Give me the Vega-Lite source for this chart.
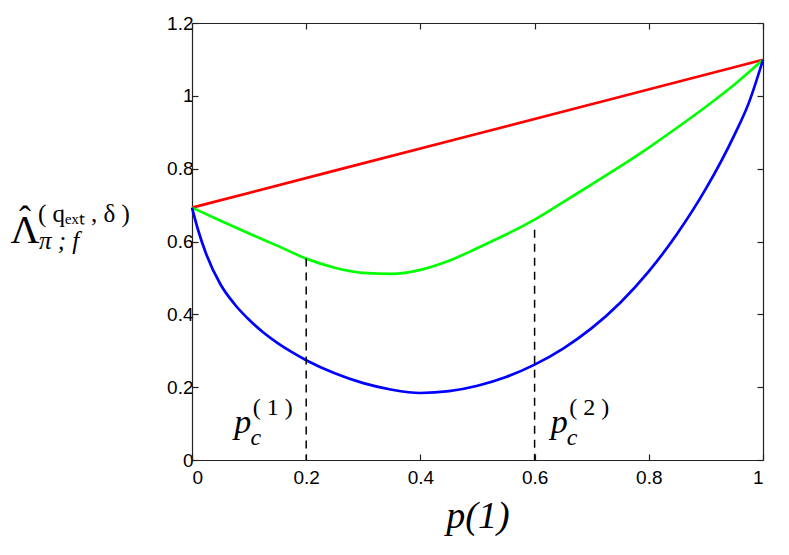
{
  "$schema": "https://vega.github.io/schema/vega-lite/v6.json",
  "width": 571,
  "height": 437,
  "autosize": "none",
  "padding": {"left": 192, "top": 23, "right": 26, "bottom": 95},
  "background": "white",
  "config": {
    "view": {"stroke": null},
    "axis": {
      "grid": false,
      "labelFont": "Liberation Sans",
      "labelFontSize": 19,
      "labelColor": "black",
      "domainColor": "#222",
      "domainWidth": 1.2,
      "tickColor": "#222",
      "tickWidth": 1.2,
      "tickSize": -6
    }
  },
  "datasets": {
    "curves": [
      {"p": 0, "v": 0.693, "series": "red"},
      {"p": 0.5, "v": 0.896, "series": "red"},
      {"p": 1, "v": 1.099, "series": "red"},
      {"p": 0, "v": 0.693, "series": "green"},
      {"p": 0.05, "v": 0.657, "series": "green"},
      {"p": 0.1, "v": 0.622, "series": "green"},
      {"p": 0.15, "v": 0.588, "series": "green"},
      {"p": 0.2, "v": 0.553, "series": "green"},
      {"p": 0.25, "v": 0.528, "series": "green"},
      {"p": 0.3, "v": 0.514, "series": "green"},
      {"p": 0.35, "v": 0.511, "series": "green"},
      {"p": 0.4, "v": 0.522, "series": "green"},
      {"p": 0.45, "v": 0.547, "series": "green"},
      {"p": 0.5, "v": 0.582, "series": "green"},
      {"p": 0.55, "v": 0.619, "series": "green"},
      {"p": 0.6, "v": 0.66, "series": "green"},
      {"p": 0.65, "v": 0.708, "series": "green"},
      {"p": 0.7, "v": 0.757, "series": "green"},
      {"p": 0.75, "v": 0.806, "series": "green"},
      {"p": 0.8, "v": 0.858, "series": "green"},
      {"p": 0.85, "v": 0.913, "series": "green"},
      {"p": 0.9, "v": 0.97, "series": "green"},
      {"p": 0.95, "v": 1.031, "series": "green"},
      {"p": 1, "v": 1.099, "series": "green"},
      {"p": 0, "v": 0.693, "series": "blue"},
      {"p": 0.01, "v": 0.635, "series": "blue"},
      {"p": 0.025, "v": 0.565, "series": "blue"},
      {"p": 0.05, "v": 0.482, "series": "blue"},
      {"p": 0.075, "v": 0.427, "series": "blue"},
      {"p": 0.1, "v": 0.385, "series": "blue"},
      {"p": 0.125, "v": 0.35, "series": "blue"},
      {"p": 0.15, "v": 0.321, "series": "blue"},
      {"p": 0.175, "v": 0.296, "series": "blue"},
      {"p": 0.2, "v": 0.274, "series": "blue"},
      {"p": 0.25, "v": 0.238, "series": "blue"},
      {"p": 0.3, "v": 0.211, "series": "blue"},
      {"p": 0.35, "v": 0.193, "series": "blue"},
      {"p": 0.4, "v": 0.184, "series": "blue"},
      {"p": 0.45, "v": 0.189, "series": "blue"},
      {"p": 0.5, "v": 0.204, "series": "blue"},
      {"p": 0.55, "v": 0.228, "series": "blue"},
      {"p": 0.6, "v": 0.262, "series": "blue"},
      {"p": 0.65, "v": 0.306, "series": "blue"},
      {"p": 0.7, "v": 0.362, "series": "blue"},
      {"p": 0.75, "v": 0.432, "series": "blue"},
      {"p": 0.8, "v": 0.518, "series": "blue"},
      {"p": 0.85, "v": 0.622, "series": "blue"},
      {"p": 0.9, "v": 0.745, "series": "blue"},
      {"p": 0.95, "v": 0.893, "series": "blue"},
      {"p": 0.975, "v": 0.98, "series": "blue"},
      {"p": 1, "v": 1.099, "series": "blue"}
    ],
    "cuts": [
      {"p": 0.2, "top": 0.553},
      {"p": 0.6, "top": 0.632}
    ],
    "pc": [
      {"p": 0.089, "v": 0.074, "n": "( 1 )"},
      {"p": 0.643, "v": 0.074, "n": "( 2 )"}
    ],
    "ylab": [
      {"p": -0.2925, "v": 0.596}
    ]
  },
  "layer": [
    {
      "data": {"name": "curves"},
      "mark": {"type": "line", "strokeWidth": 2.7, "interpolate": "monotone"},
      "encoding": {
        "x": {
          "field": "p", "type": "quantitative",
          "scale": {"domain": [0, 1], "nice": false, "zero": false},
          "axis": {
            "orient": "bottom",
            "values": [0, 0.2, 0.4, 0.6, 0.8, 1],
            "format": "~g",
            "labelPadding": 14,
            "title": "p(1)",
            "titleFont": "Liberation Serif",
            "titleFontStyle": "italic",
            "titleFontWeight": "normal",
            "titleFontSize": 38,
            "titleColor": "black",
            "titlePadding": 10
          }
        },
        "y": {
          "field": "v", "type": "quantitative",
          "scale": {"domain": [0, 1.2], "nice": false},
          "axis": {
            "orient": "left",
            "values": [0, 0.2, 0.4, 0.6, 0.8, 1, 1.2],
            "format": "~g",
            "labelPadding": 5,
            "title": null
          }
        },
        "color": {
          "field": "series", "type": "nominal",
          "scale": {"domain": ["red", "green", "blue"], "range": ["#ff0000", "#00ff00", "#0000ff"]},
          "legend": null
        }
      }
    },
    {
      "data": {"name": "cuts"},
      "mark": {"type": "rule", "color": "black", "strokeWidth": 1.5, "strokeDash": [8, 6]},
      "encoding": {
        "x": {
          "field": "p", "type": "quantitative",
          "axis": {"orient": "top", "values": [0, 0.2, 0.4, 0.6, 0.8, 1], "labels": false, "title": null}
        },
        "y": {
          "field": "top", "type": "quantitative",
          "axis": {"orient": "right", "values": [0, 0.2, 0.4, 0.6, 0.8, 1, 1.2], "labels": false, "title": null}
        },
        "y2": {"datum": 0}
      }
    },
    {
      "data": {"name": "pc"},
      "mark": {"type": "text", "font": "Liberation Serif", "fontStyle": "italic", "fontSize": 34, "align": "center", "baseline": "alphabetic", "color": "black"},
      "encoding": {
        "x": {"field": "p", "type": "quantitative", "axis": null},
        "y": {"field": "v", "type": "quantitative", "axis": null},
        "text": {"value": "p"}
      }
    },
    {
      "data": {"name": "pc"},
      "mark": {"type": "text", "font": "Liberation Serif", "fontStyle": "italic", "fontSize": 24, "align": "center", "baseline": "alphabetic", "dx": 13, "dy": 12, "color": "black"},
      "encoding": {
        "x": {"field": "p", "type": "quantitative", "axis": null},
        "y": {"field": "v", "type": "quantitative", "axis": null},
        "text": {"value": "c"}
      }
    },
    {
      "data": {"name": "pc"},
      "mark": {"type": "text", "font": "Liberation Serif", "fontSize": 24, "align": "left", "baseline": "alphabetic", "dx": 10, "dy": -18, "color": "black"},
      "encoding": {
        "x": {"field": "p", "type": "quantitative", "axis": null},
        "y": {"field": "v", "type": "quantitative", "axis": null},
        "text": {"field": "n"}
      }
    },
    {
      "data": {"name": "ylab"},
      "mark": {"type": "text", "font": "Liberation Serif", "fontSize": 40, "align": "center", "baseline": "alphabetic", "color": "black"},
      "encoding": {
        "x": {"field": "p", "type": "quantitative", "axis": null},
        "y": {"field": "v", "type": "quantitative", "axis": null},
        "text": {"value": "Λ"}
      }
    },
    {
      "data": {"name": "ylab"},
      "mark": {"type": "text", "font": "Liberation Serif", "fontSize": 36, "align": "center", "baseline": "alphabetic", "dy": -12, "color": "black"},
      "encoding": {
        "x": {"field": "p", "type": "quantitative", "axis": null},
        "y": {"field": "v", "type": "quantitative", "axis": null},
        "text": {"value": "ˆ"}
      }
    },
    {
      "data": {"name": "ylab"},
      "mark": {"type": "text", "font": "Liberation Serif", "fontSize": 25, "align": "left", "baseline": "alphabetic", "dx": 13, "dy": -21, "color": "black"},
      "encoding": {
        "x": {"field": "p", "type": "quantitative", "axis": null},
        "y": {"field": "v", "type": "quantitative", "axis": null},
        "text": {"value": "( qₑₓₜ , δ )"}
      }
    },
    {
      "data": {"name": "ylab"},
      "mark": {"type": "text", "font": "Liberation Serif", "fontStyle": "italic", "fontSize": 25, "align": "left", "baseline": "alphabetic", "dx": 14, "dy": 6, "color": "black"},
      "encoding": {
        "x": {"field": "p", "type": "quantitative", "axis": null},
        "y": {"field": "v", "type": "quantitative", "axis": null},
        "text": {"value": "π ; f"}
      }
    }
  ],
  "resolve": {"axis": {"x": "independent", "y": "independent"}}
}
